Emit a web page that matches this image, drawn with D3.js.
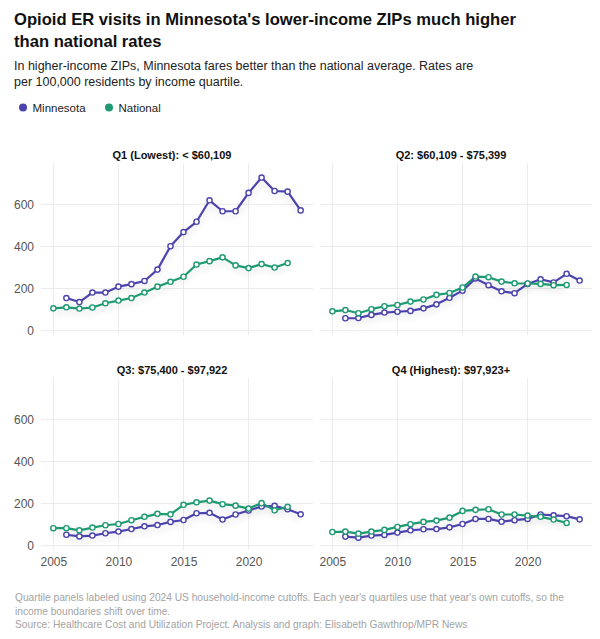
<!DOCTYPE html>
<html>
<head>
<meta charset="utf-8">
<script src="https://cdn.jsdelivr.net/npm/d3@7"></script>
<style>
  body { margin: 0; background: #fff; }
  svg { font-family: 'Liberation Sans', Arial, sans-serif; display: block; }
</style>
</head>
<body>
<div id="chart"></div>
<script>
// years on the x axis
const years = [2005, 2006, 2007, 2008, 2009, 2010, 2011, 2012, 2013, 2014,
               2015, 2016, 2017, 2018, 2019, 2020, 2021, 2022, 2023, 2024];

// rates per 100,000 (null = no data that year)
const mnQ1  = [null, 155, 136, 181, 181, 209, 221, 236, 290, 401, 468, 517, 619, 567, 567, 654, 727, 663, 660, 571];
const natQ1 = [106, 111, 105, 110, 130, 143, 155, 181, 209, 232, 256, 314, 330, 348, 310, 297, 316, 300, 321, null];
const mnQ2  = [null, 59, 60, 75, 86, 90, 94, 106, 125, 156, 190, 248, 216, 187, 178, 222, 244, 229, 270, 238];
const natQ2 = [92, 98, 83, 102, 116, 122, 138, 148, 170, 179, 205, 257, 254, 233, 225, 224, 222, 216, 217, null];
const mnQ3  = [null, 52, 44, 48, 59, 67, 79, 92, 98, 113, 122, 154, 156, 124, 148, 167, 186, 189, 173, 149];
const natQ3 = [83, 83, 73, 86, 97, 103, 121, 137, 151, 149, 194, 206, 214, 197, 190, 176, 202, 168, 184, null];
const mnQ4  = [null, 43, 38, 48, 51, 62, 73, 78, 79, 87, 103, 127, 127, 114, 121, 127, 148, 144, 140, 125];
const natQ4 = [65, 67, 57, 67, 75, 89, 102, 113, 119, 133, 165, 170, 173, 148, 148, 143, 137, 124, 108, null];

const panelTitles = ["Q1 (Lowest): < $60,109", "Q2: $60,109 - $75,399",
                     "Q3: $75,400 - $97,922", "Q4 (Highest): $97,923+"];
const seriesNames = ["Minnesota", "National"];
const xTicks = [2005, 2010, 2015, 2020];
const yTicks = [0, 200, 400, 600];

const title = ["Opioid ER visits in Minnesota's lower-income ZIPs much higher", "than national rates"];
const subtitle = ["In higher-income ZIPs, Minnesota fares better than the national average. Rates are",
                  "per 100,000 residents by income quartile."];
const footer = ["Quartile panels labeled using 2024 US household-income cutoffs. Each year's quartiles use that year's own cutoffs, so the",
                "income boundaries shift over time.",
                "Source: Healthcare Cost and Utilization Project. Analysis and graph: Elisabeth Gawthrop/MPR News"];

const panels = [
  { title: panelTitles[0], mn: mnQ1, nat: natQ1 },
  { title: panelTitles[1], mn: mnQ2, nat: natQ2 },
  { title: panelTitles[2], mn: mnQ3, nat: natQ3 },
  { title: panelTitles[3], mn: mnQ4, nat: natQ4 }
];

const width = 600, height = 639;
const colors = { Minnesota: "#4c43ad", National: "#1f9a72" };
const colX = [41, 320], rowY = [163, 378];
const pw = 272, ph = 172;

const svg = d3.select("#chart").append("svg")
  .attr("width", width)
  .attr("height", height);

const defs = svg.append("defs");
defs.append("filter")
  .attr("id", "shadow")
  .attr("x", "-10%").attr("y", "-20%").attr("width", "120%").attr("height", "160%")
  .append("feDropShadow")
  .attr("dx", 0).attr("dy", 4).attr("stdDeviation", 3.5)
  .attr("flood-color", "#000").attr("flood-opacity", 0.13);

// header
svg.append("g").selectAll("text")
  .data(title)
  .join("text")
  .attr("x", 14)
  .attr("y", (d, i) => 25 + i * 22)
  .attr("font-size", 16.6)
  .attr("font-weight", "bold")
  .attr("fill", "#111")
  .text(d => d);

svg.append("g").selectAll("text")
  .data(subtitle)
  .join("text")
  .attr("x", 14)
  .attr("y", (d, i) => 70 + i * 16)
  .attr("font-size", 12.5)
  .attr("fill", "#222")
  .text(d => d);

// legend
const legend = svg.append("g").attr("transform", "translate(23,107.5)");
const legItem = legend.selectAll("g")
  .data(seriesNames)
  .join("g")
  .attr("transform", (d, i) => `translate(${i * 86},0)`);
legItem.append("circle").attr("r", 4).attr("fill", d => colors[d]);
legItem.append("text")
  .attr("x", 9.5).attr("y", 4)
  .attr("font-size", 11.5)
  .attr("fill", "#222")
  .text(d => d);

const x = d3.scaleLinear().domain([2004.05, 2024.95]).range([0, pw]);
const y = d3.scaleLinear().domain([-20.5, 796]).range([ph, 0]);

const line = d3.line()
  .defined(d => d.v != null)
  .x(d => x(d.year))
  .y(d => y(d.v));

panels.forEach((p, i) => {
  const col = i % 2, row = Math.floor(i / 2);
  const g = svg.append("g").attr("transform", `translate(${colX[col]},${rowY[row]})`);

  // grid
  g.append("g").selectAll("line")
    .data(yTicks)
    .join("line")
    .attr("x1", 0).attr("x2", pw)
    .attr("y1", d => y(d)).attr("y2", d => y(d))
    .attr("stroke", "#ebebeb").attr("stroke-width", 1);
  g.append("g").selectAll("line")
    .data(xTicks)
    .join("line")
    .attr("y1", 0).attr("y2", ph)
    .attr("x1", d => x(d)).attr("x2", d => x(d))
    .attr("stroke", "#ebebeb").attr("stroke-width", 1);

  // axes text
  if (col === 0) {
    const ya = g.append("g")
      .call(d3.axisLeft(y).tickValues(yTicks).tickSize(0).tickPadding(7));
    ya.select(".domain").remove();
    ya.selectAll("text")
      .attr("font-family", "'Liberation Sans', Arial, sans-serif")
      .attr("font-size", 12)
      .attr("fill", "#555");
  }
  if (row === 1) {
    const xa = g.append("g")
      .attr("transform", `translate(0,${ph})`)
      .call(d3.axisBottom(x).tickValues(xTicks).tickFormat(d3.format("d")).tickSize(0).tickPadding(7));
    xa.select(".domain").remove();
    xa.selectAll("text")
      .attr("font-family", "'Liberation Sans', Arial, sans-serif")
      .attr("font-size", 12)
      .attr("fill", "#555");
  }

  // panel title
  g.append("text")
    .attr("x", pw / 2 - 5)
    .attr("y", -4)
    .attr("text-anchor", "middle")
    .attr("font-size", 11)
    .attr("font-weight", "bold")
    .attr("fill", "#111")
    .text(p.title);

  const series = [
    { name: "Minnesota", values: years.map((yr, k) => ({ year: yr, v: p.mn[k] })) },
    { name: "National", values: years.map((yr, k) => ({ year: yr, v: p.nat[k] })) }
  ];

  g.append("g")
    .attr("filter", "url(#shadow)")
    .selectAll("path")
    .data(series)
    .join("path")
    .attr("d", d => line(d.values))
    .attr("fill", "none")
    .attr("stroke", d => colors[d.name])
    .attr("stroke-width", 2.2)
    .attr("stroke-linejoin", "round");

  series.forEach(s => {
    g.append("g").selectAll("circle")
      .data(s.values.filter(d => d.v != null))
      .join("circle")
      .attr("cx", d => x(d.year))
      .attr("cy", d => y(d.v))
      .attr("r", 2.6)
      .attr("fill", "#fff")
      .attr("stroke", colors[s.name])
      .attr("stroke-width", 1.4);
  });
});

// footer
svg.append("g").selectAll("text")
  .data(footer)
  .join("text")
  .attr("x", 15)
  .attr("y", (d, i) => 601 + i * 13.6)
  .attr("font-size", 10.2)
  .attr("fill", "#a3a3a3")
  .text(d => d);
</script>
</body>
</html>
